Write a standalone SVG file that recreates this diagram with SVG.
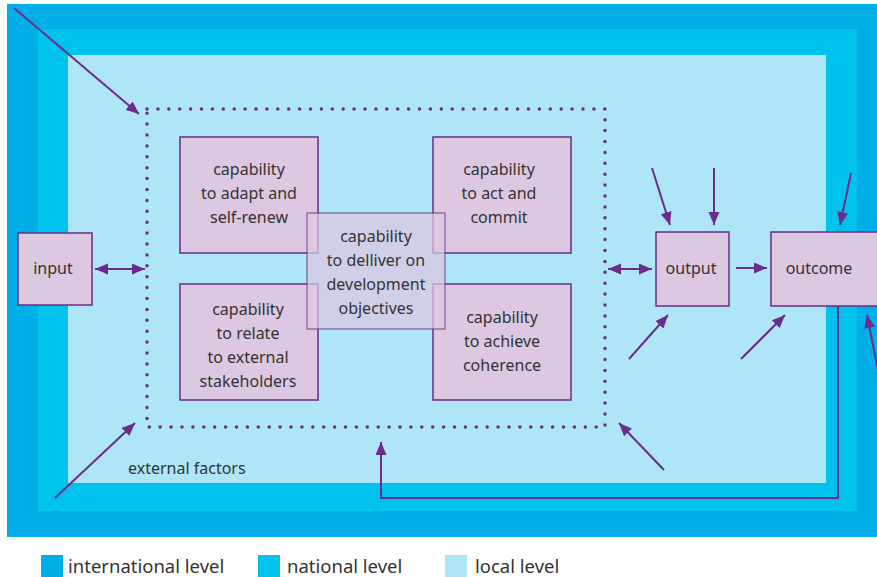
<svg xmlns="http://www.w3.org/2000/svg" width="877" height="577" viewBox="0 0 877 577">
<style>
.box{fill:#dcc8e0;stroke:#6d2b8a;stroke-width:1.5}
.ctr{fill:#dcc8e0;fill-opacity:0.72;stroke:#6d2b8a;stroke-opacity:0.6;stroke-width:1.5}
.t{font-family:"Noto Sans","Open Sans",sans-serif;font-size:16px;fill:#333;text-anchor:middle}
.lg{font-family:"Noto Sans","Open Sans",sans-serif;font-size:18.5px;fill:#333}
.ln{stroke:#6d2b8a;stroke-width:2;fill:none}
</style>
<defs>
<marker id="ah" markerUnits="userSpaceOnUse" markerWidth="14" markerHeight="12" refX="13" refY="5.5" orient="auto-start-reverse">
<path d="M0,0 L13,5.5 L0,11 z" fill="#6d2b8a"/>
</marker>
</defs>
<rect width="877" height="577" fill="#fff"/>
<g id="levels">
<rect x="7" y="4" width="870" height="533" fill="#00afe8"/>
<rect x="38" y="29" width="819" height="482" fill="#00c3ed"/>
<rect x="68" y="55" width="758" height="428" fill="#aee6f7"/>
</g>
<g id="boundary">
<rect x="147" y="109" width="458" height="318" fill="none" stroke="#6d2b8a" stroke-width="3.5" stroke-linecap="round" stroke-dasharray="0 10.9"/>
<text class="t" x="128" y="474" style="text-anchor:start">external factors</text>
</g>
<g id="connectors">
<line class="ln" x1="14" y1="8" x2="139" y2="114" marker-end="url(#ah)"/>
<line class="ln" x1="55" y1="498" x2="135" y2="423" marker-end="url(#ah)"/>
<line class="ln" x1="664" y1="470" x2="619" y2="423" marker-end="url(#ah)"/>
<line class="ln" x1="95" y1="269" x2="145" y2="269" marker-start="url(#ah)" marker-end="url(#ah)"/>
<line class="ln" x1="608" y1="269" x2="652" y2="269" marker-start="url(#ah)" marker-end="url(#ah)"/>
<line class="ln" x1="736" y1="268" x2="767" y2="268" marker-end="url(#ah)"/>
<line class="ln" x1="652" y1="168" x2="670" y2="225" marker-end="url(#ah)"/>
<line class="ln" x1="714" y1="168" x2="714" y2="225" marker-end="url(#ah)"/>
<line class="ln" x1="629" y1="359" x2="668" y2="315" marker-end="url(#ah)"/>
<line class="ln" x1="741" y1="359" x2="785" y2="315" marker-end="url(#ah)"/>
<line class="ln" x1="851" y1="173" x2="840" y2="225" marker-end="url(#ah)"/>
<line class="ln" x1="878" y1="370" x2="867" y2="315" marker-end="url(#ah)"/>
<polyline class="ln" points="838,306 838,498 381,498 381,442" marker-end="url(#ah)"/>
</g>
<g id="input">
<rect class="box" x="18" y="233" width="74" height="72"/>
<text class="t" x="53" y="274">input</text>
</g>
<g id="output">
<rect class="box" x="656" y="232" width="73" height="74"/>
<text class="t" x="691" y="274">output</text>
</g>
<g id="outcome">
<rect class="box" x="771" y="232" width="112" height="74"/>
<text class="t" x="819" y="274">outcome</text>
</g>
<g id="adapt">
<rect class="box" x="180" y="137" width="138" height="116"/>
<text class="t" x="249" y="175">capability</text>
<text class="t" x="249" y="199">to adapt and</text>
<text class="t" x="249" y="223">self-renew</text>
</g>
<g id="act">
<rect class="box" x="433" y="137" width="138" height="116"/>
<text class="t" x="499" y="175">capability</text>
<text class="t" x="499" y="199">to act and</text>
<text class="t" x="499" y="223">commit</text>
</g>
<g id="relate">
<rect class="box" x="180" y="284" width="138" height="116"/>
<text class="t" x="248" y="315">capability</text>
<text class="t" x="248" y="339">to relate</text>
<text class="t" x="248" y="363">to external</text>
<text class="t" x="248" y="387">stakeholders</text>
</g>
<g id="coherence">
<rect class="box" x="433" y="284" width="138" height="116"/>
<text class="t" x="502" y="323">capability</text>
<text class="t" x="502" y="347">to achieve</text>
<text class="t" x="502" y="371">coherence</text>
</g>
<g id="deliver">
<rect class="ctr" x="307" y="213" width="138" height="116"/>
<text class="t" x="376" y="242">capability</text>
<text class="t" x="376" y="266">to delliver on</text>
<text class="t" x="376" y="290">development</text>
<text class="t" x="376" y="314">objectives</text>
</g>
<g id="legend">
<rect x="41" y="555" width="22" height="22" fill="#00afe8"/>
<text class="lg" x="68" y="573">international level</text>
<rect x="258" y="555" width="22" height="22" fill="#00c3ed"/>
<text class="lg" x="287" y="573">national level</text>
<rect x="445" y="555" width="22" height="22" fill="#aee6f7"/>
<text class="lg" x="475" y="573">local level</text>
</g>
</svg>
